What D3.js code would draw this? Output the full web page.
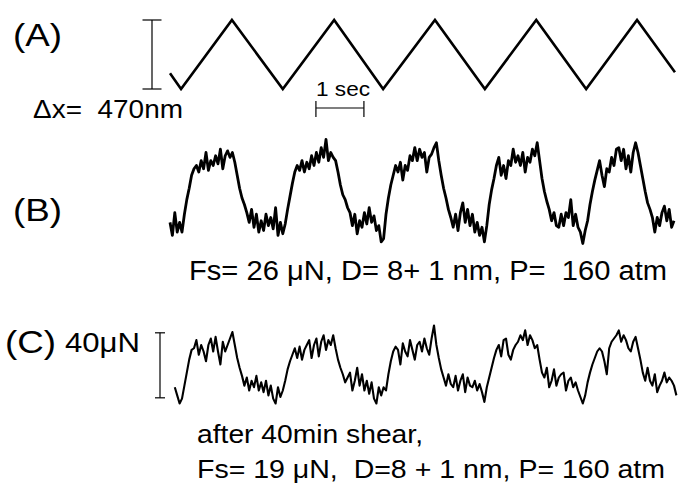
<!DOCTYPE html>
<html>
<head>
<meta charset="utf-8">
<title>Friction traces</title>
<style>
  body { margin: 0; background: #fff; }
  text { font-family: "Liberation Sans", Arial, sans-serif; fill: #000; white-space: pre; }
</style>
</head>
<body>
<script src="https://cdn.jsdelivr.net/npm/d3@7/dist/d3.min.js"></script>
<script>
// (A) drive displacement, corners of the triangle wave
const driveTime = [0, 0.23, 1.29, 2.35, 3.42, 4.44, 5.52, 6.56, 7.63, 8.67, 9.73, 10.52]; // s
const driveNm   = [107, 0, 470, 0, 470, 0, 470, 0, 470, 0, 470, 114];

// (B) and (C) friction force, one sample every 0.05 s, in uN
const dt = 0.05;
const startB = 0, startC = 0.1;
const forceB = [17, 9, 23, 11, 17, 11, 22, 31, 38, 46, 50,
  52, 48, 55, 50, 60, 49, 55, 52, 58, 53, 62, 50, 58, 61, 57, 60,
  54, 46, 38, 32, 28, 23,
  17, 25, 14, 22, 11, 18, 12, 22, 15, 20, 13, 26, 9, 17, 10,
  16, 25, 33, 41, 48, 52,
  49, 55, 48, 54, 50, 58, 52, 60, 54, 63, 57, 68, 55, 60, 57,
  55, 48, 40, 34, 31, 26, 23,
  15, 22, 10, 18, 14, 23, 16, 26, 17, 21, 12, 15, 5,
  7, 22, 32, 40, 46, 52,
  48, 54, 43, 52, 49, 58, 55, 63, 55, 62, 57, 60, 48, 57, 59, 63, 66,
  55, 46, 38, 32, 25,
  20, 14, 22, 12, 23, 29, 17, 25, 15, 22, 11, 17, 9, 14, 5,
  15, 28, 37, 44, 52,
  57, 46, 52, 44, 55, 52, 62, 54, 58, 52, 60, 48, 57, 54, 62, 58, 66,
  55, 44, 36, 30, 25,
  18, 23, 15, 14, 22, 15, 23, 20, 31, 15, 22, 14, 11, 4,
  12, 18, 28, 36, 43, 49, 55,
  46, 39, 50, 48, 57, 52, 62, 63, 55, 62, 50, 58, 48, 60, 66,
  60, 52, 44, 36, 29, 25, 20,
  11, 20, 15, 23, 27, 18, 25, 14, 18];
const forceC = [14, 9, 4, 7, 15, 23, 31, 37,
  38, 43, 34, 40, 36, 30, 40, 44, 36, 45, 36, 28, 42, 36, 40, 44, 48,
  40, 32, 26, 21,
  15, 20, 12, 18, 14, 21, 12, 17, 11, 18, 9, 15, 7, 4, 14, 8, 12,
  18, 25, 30, 34, 38,
  32, 39, 31, 37, 40, 43, 32, 40, 44, 33, 42, 46, 37, 43, 40, 46, 38,
  31, 26, 22, 17,
  20, 23, 12, 18, 26, 15, 22, 12, 18, 10, 17, 7, 4, 14, 9, 14,
  12, 22, 30, 36, 39,
  37, 28, 41, 36, 33, 43, 37, 31, 40, 42, 36, 44, 38, 34, 44, 52,
  40, 32, 25, 20,
  15, 22, 16, 14, 21, 12, 18, 22, 11, 20, 15, 14, 18, 12, 16, 11, 5,
  14, 20, 26, 32, 37,
  40, 33, 43, 44, 34, 31, 37, 40, 42, 46, 43, 49, 40, 46, 43, 38, 40,
  31, 23,
  20, 26, 14, 18, 25, 15, 20, 22, 23, 12, 18, 20, 14, 17, 12, 8, 4,
  9, 17, 23, 28, 32, 36, 38,
  36, 30, 22, 38, 42, 44, 46, 49, 42, 46, 43, 38, 36, 42, 45,
  38, 31, 23, 18,
  26, 18, 15, 22, 11, 15, 18, 23, 17, 20, 18, 15, 9];

const svg = d3.select("body").append("svg")
  .attr("width", 679).attr("height", 495);

// shared time axis, 48 px per second
const x = d3.scaleLinear().domain([0, 10.6]).range([170, 170 + 10.6 * 48]);
const yA = d3.scaleLinear().domain([0, 470]).range([89, 20]);
const yB = d3.scaleLinear().domain([0, 40]).range([250, 185]);
const yC = d3.scaleLinear().domain([0, 40]).range([410, 345]);

// traces
svg.append("path")
  .attr("d", d3.line().x((d, i) => x(driveTime[i])).y(d => yA(d))(driveNm))
  .attr("fill", "none").attr("stroke", "#000").attr("stroke-width", 2.6)
  .attr("stroke-linejoin", "miter");

svg.append("path")
  .attr("d", d3.line().x((d, i) => x(startB + i * dt)).y(d => yB(d))(forceB))
  .attr("fill", "none").attr("stroke", "#000").attr("stroke-width", 2.8)
  .attr("stroke-linejoin", "round");

svg.append("path")
  .attr("d", d3.line().x((d, i) => x(startC + i * dt)).y(d => yC(d))(forceC))
  .attr("fill", "none").attr("stroke", "#000").attr("stroke-width", 2.1)
  .attr("stroke-linejoin", "round");

// scale bars
function vbar(cx, y0, y1, cap) {
  const g = svg.append("g").attr("stroke", "#000").attr("stroke-width", 1.2);
  g.append("line").attr("x1", cx).attr("x2", cx).attr("y1", y0).attr("y2", y1);
  g.append("line").attr("x1", cx - cap).attr("x2", cx + cap).attr("y1", y0).attr("y2", y0);
  g.append("line").attr("x1", cx - cap).attr("x2", cx + cap).attr("y1", y1).attr("y2", y1);
}
vbar(152, yA(0), yA(470), 9.5);
vbar(160, yC(7.5), yC(47.5), 5);

// 1 sec bar
const tb = svg.append("g").attr("stroke", "#000").attr("stroke-width", 1.2);
tb.append("line").attr("x1", x(3.04)).attr("x2", x(4.04)).attr("y1", 108).attr("y2", 108);
tb.append("line").attr("x1", x(3.04)).attr("x2", x(3.04)).attr("y1", 101).attr("y2", 117);
tb.append("line").attr("x1", x(4.04)).attr("x2", x(4.04)).attr("y1", 101).attr("y2", 117);

// labels: the original face is a little wider than Arial, so widths are fixed
function label(tx, ty, size, str, len) {
  svg.append("text").attr("x", tx).attr("y", ty)
    .attr("font-size", size)
    .attr("textLength", len).attr("lengthAdjust", "spacingAndGlyphs")
    .text(str);
}
label(13, 46, 32, "(A)", 49);
label(33, 118, 25, "\u0394x=  470nm", 150);
label(316, 96, 21, "1 sec", 54);
label(13, 221, 32, "(B)", 49);
label(189, 280, 27, "Fs= 26 \u03bcN, D= 8+ 1 nm, P=  160 atm", 478);
label(5, 353, 32, "(C)", 51);
label(65, 352, 27, "40\u03bcN", 75);
label(197, 443, 26, "after 40min shear,", 226);
label(197, 478, 26, "Fs= 19 \u03bcN,  D=8 + 1 nm, P= 160 atm", 468);
</script>
</body>
</html>
